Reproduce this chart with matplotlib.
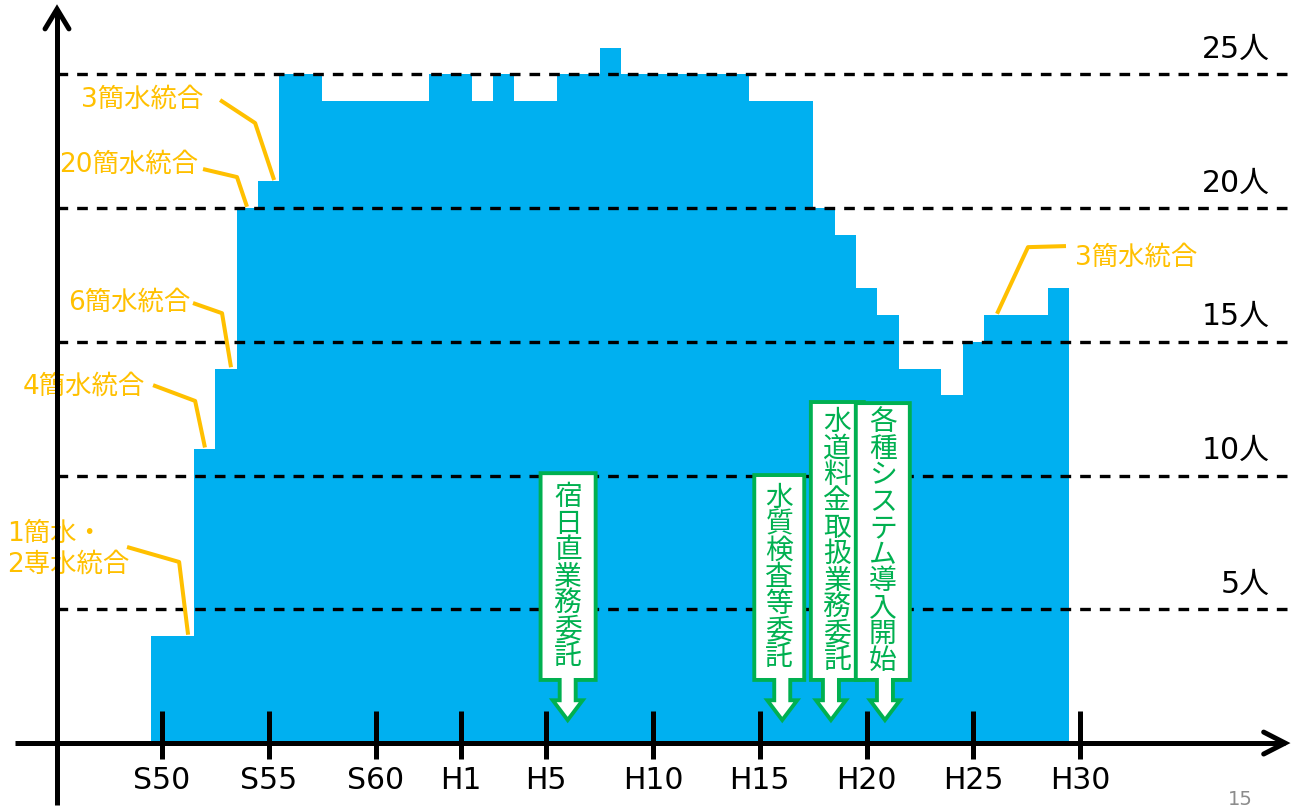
import matplotlib
matplotlib.use('Agg')
import matplotlib.pyplot as plt
from matplotlib.patches import Polygon

plt.rcParams['font.family'] = ['DejaVu Sans', 'Noto Sans CJK JP']

# staff numbers per fiscal year (S50 = 1975 ... H29 = 2017)
years = list(range(1975, 2018))
staff = [4, 4, 11, 14, 20, 21, 25, 25, 24, 24,
         24, 24, 24, 25, 25, 24, 25, 24, 24, 25,
         25, 26, 25, 25, 25, 25, 25, 25, 24, 24,
         24, 20, 19, 17, 16, 14, 14, 13, 15, 16,
         16, 16, 17]

tick_years = [1975, 1980, 1985, 1989, 1993, 1998, 2003, 2008, 2013, 2018]
tick_labels = ['S50', 'S55', 'S60', 'H1', 'H5', 'H10', 'H15', 'H20', 'H25', 'H30']

guide_levels = [5, 10, 15, 20, 25]
guide_labels = ['5人', '10人', '15人', '20人', '25人']

# mergers of small water systems (year of the bar the leader points to)
merge_years = [1976, 1977, 1978, 1979, 1980, 2014]
merge_labels = ['1簡水・\n2専水統合', '4簡水統合', '6簡水統合',
                '20簡水統合', '3簡水統合', '3簡水統合']

# outsourcing / system events
event_years = [1994, 2004, 2006, 2009]
event_labels = ['宿日直業務委託', '水質検査等委託', '水道料金取扱業務委託', '各種システム導入開始']

BLUE = '#00B0F0'
ORANGE = '#FFC000'
GREEN = '#00B050'

fig = plt.figure(figsize=(12.94, 8.11), dpi=100)
ax = fig.add_axes([0, 0, 1, 1])
ax.set_xlim(1967.41, 2028.02)
ax.set_ylim(-2.54, 27.78)
ax.axis('off')

ax.bar(years, staff, width=1.0, color=BLUE, linewidth=0, zorder=1)

# dashed guide lines + labels
x_axis_left = 1970.08
x_guide_right = 2027.83
for lev, lab in zip(guide_levels, guide_labels):
    ax.plot([x_axis_left, x_guide_right], [lev, lev], color='black', lw=2.4,
            linestyle=(0, (3.2, 2.7)), zorder=3)
    ax.text(2026.9, lev + 0.62, lab, ha='right', va='baseline', fontsize=21.5, zorder=3)

# axes with chevron arrows
ax.plot([x_axis_left, x_axis_left], [-2.32, 27.44], color='black', lw=3.6,
        solid_capstyle='butt', zorder=5)
ax.plot([x_axis_left - 0.56, x_axis_left, x_axis_left + 0.56], [26.7, 27.44, 26.7],
        color='black', lw=3.6, solid_capstyle='round', solid_joinstyle='miter', zorder=5)
ax.plot([1968.11, 2027.6], [0, 0], color='black', lw=3.6, solid_capstyle='butt', zorder=5)
ax.plot([2026.6, 2027.6, 2026.6], [0.41, 0, -0.41], color='black', lw=3.6,
        solid_capstyle='round', solid_joinstyle='miter', zorder=5)

ax.vlines(tick_years, -0.6, 1.2, color='black', lw=3.6, zorder=5)
for ty, tl in zip(tick_years, tick_labels):
    ax.text(ty, -1.72, tl, ha='center', va='baseline', fontsize=21.5)

# orange merger annotations: text anchor, leader start, leader bend, x offset of end
merge_layout = [
    dict(text=(1967.74, 7.25), ha='left', start=(1973.36, 7.33), mid=(1975.80, 6.77), dx=0.22),
    dict(text=(1974.20, 13.31), ha='right', start=(1974.58, 13.38), mid=(1976.55, 12.79), dx=0.01),
    dict(text=(1976.31, 16.45), ha='right', start=(1976.45, 16.45), mid=(1977.81, 16.07), dx=0.23),
    dict(text=(1976.69, 21.61), ha='right', start=(1976.92, 21.46), mid=(1978.51, 21.16), dx=-0.02),
    dict(text=(1976.92, 24.04), ha='right', start=(1977.72, 24.04), mid=(1979.36, 23.18), dx=0.25),
    dict(text=(2017.76, 18.13), ha='left', start=(2017.34, 18.58), mid=(2015.56, 18.54), dx=0.11),
]
for yr, lab, lay in zip(merge_years, merge_labels, merge_layout):
    end = (yr + lay['dx'], staff[years.index(yr)] + 0.05)
    xs = [lay['start'][0], lay['mid'][0], end[0]]
    ys = [lay['start'][1], lay['mid'][1], end[1]]
    ax.plot(xs, ys, color=ORANGE, lw=2.9, solid_capstyle='butt', zorder=4)
    ax.text(lay['text'][0], lay['text'][1], lab, ha=lay['ha'], va='center',
            fontsize=19, color=ORANGE, linespacing=1.25, zorder=4)

# green callout boxes with down arrows
event_layout = [
    dict(dx=0.0, box_dx=0.02, width=2.58, top=10.09),
    dict(dx=0.05, box_dx=-0.14, width=2.34, top=10.02),
    dict(dx=0.33, box_dx=0.30, width=2.48, top=12.75),
    dict(dx=-0.14, box_dx=-0.10, width=2.53, top=12.71),
]
box_bottom = 2.36
head_base = 1.6
tip = 0.86
shaft_w = 0.75
head_w = 1.4
pitch = 0.99
for yr, lab, lay in zip(event_years, event_labels, event_layout):
    ax_x = yr + lay['dx']
    cx = ax_x + lay['box_dx']
    w = lay['width']
    pts = [(cx - w / 2, lay['top']), (cx + w / 2, lay['top']), (cx + w / 2, box_bottom),
           (ax_x + shaft_w / 2, box_bottom), (ax_x + shaft_w / 2, head_base),
           (ax_x + head_w / 2, head_base), (ax_x, tip), (ax_x - head_w / 2, head_base),
           (ax_x - shaft_w / 2, head_base), (ax_x - shaft_w / 2, box_bottom),
           (cx - w / 2, box_bottom)]
    ax.add_patch(Polygon(pts, closed=True, facecolor='white', edgecolor=GREEN,
                         lw=2.8, joinstyle='miter', zorder=6))
    mid_y = (lay['top'] + box_bottom) / 2
    n = len(lab)
    for i, ch in enumerate(lab):
        ax.text(cx, mid_y + (n - 1) / 2 * pitch - i * pitch, ch, ha='center', va='center',
                fontsize=20, color=GREEN, zorder=7)

ax.text(2025.49, -2.1, '15', ha='center', va='center', fontsize=14, color='#8c8c8c')

fig.savefig('out.png', dpi=100)
